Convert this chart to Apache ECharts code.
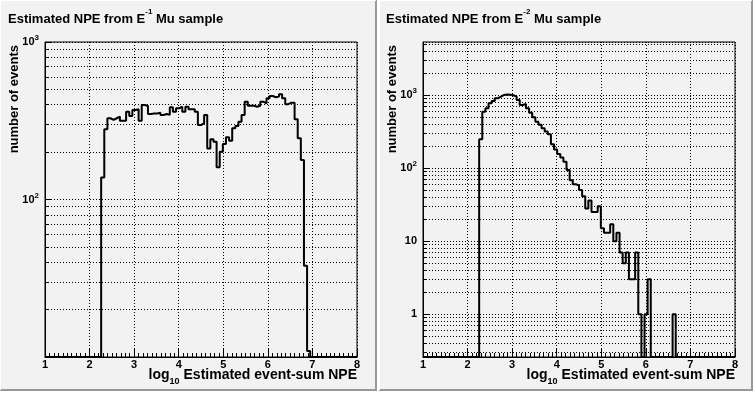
<!DOCTYPE html>
<html><head><meta charset="utf-8">
<script src="https://cdn.jsdelivr.net/npm/echarts@6/dist/echarts.min.js"></script>
<style>html,body{margin:0;padding:0;background:#fff}#c{width:756px;height:394px}</style>
</head><body><div id="c"></div>
<script>
// ---- data ----
const binLow = 1;          // histogram lower edge (log10 NPE)
const binWidth = 0.07;     // bin width
const nBins = 100;         // number of bins (1 .. 8)
// E^-1 sample: counts of bins 18..84
const leftFirstBin = 18;
const leftCounts = [138, 279, 328, 320, 328, 336, 316, 316, 361, 339,
  370, 374, 316, 398, 392, 349, 352, 352, 356, 344,
  349, 345, 385, 361, 379, 388, 361, 388, 374, 374,
  361, 297, 305, 344, 211, 241, 233, 160, 201, 225,
  248, 236, 283, 293, 312, 344, 418, 394, 394, 388,
  394, 418, 408, 439, 454, 446, 450, 466, 439, 403,
  412, 412, 323, 245, 178, 38, 10.9];
// E^-2 sample: counts of bins 18..80
const rightFirstBin = 18;
const rightCounts = [247, 590, 657, 769, 828, 901, 948, 1000, 1015, 1010,
  990, 950, 852, 729, 753, 657, 570, 495, 430, 390,
  350, 316, 290, 211, 180, 156, 139, 122, 94, 68,
  60, 58, 50, 41, 28, 36, 25, 25, 30, 15,
  13, 13, 17, 10, 13, 7, 5, 7, 3, 3,
  7, 1, 0, 1, 3, 0, 0, 0, 0, 0,
  0, 0, 1];
const leftYRange = [10, 1000];
const rightYRange = [0.26, 5300];
const xRange = [1, 8];
const leftMinorGrid = [20, 30, 40, 50, 60, 70, 80, 90, 200, 300, 400, 500, 600, 700, 800, 900];
const rightMinorGrid = [0.3, 0.4, 0.5, 0.6, 0.7, 0.8, 0.9, 2, 3, 4, 5, 6, 7, 8, 9,
  20, 30, 40, 50, 60, 70, 80, 90, 200, 300, 400, 500, 600, 700, 800, 900, 2000, 3000, 4000, 5000];
const titles = ['Estimated NPE from E', 'Estimated NPE from E'];
const titleSups = ['-1', '-2'];
const titleTail = ' Mu sample';
const yTitle = 'number of events';
const xTitleMain = 'log';
const xTitleSub = '10';
const xTitleTail = ' Estimated event-sum NPE';

// ---- chart ----
const FONT = 'Liberation Sans, Arial, sans-serif';
const chart = echarts.init(document.getElementById('c'), null, {renderer: 'canvas'});

function hist(counts, first, yMin) {
  const pts = [];
  for (let i = 0; i < nBins; i++) {
    const k = i - first;
    let v = (k >= 0 && k < counts.length) ? counts[k] : 0;
    if (!(v > 0)) v = yMin;
    pts.push([+(binLow + i * binWidth).toFixed(4), v]);
  }
  pts.push([binLow + nBins * binWidth, yMin]);
  return pts;
}
const dotted = {type: [1, 2], color: '#000', width: 1};
function xAxisCfg(idx) {
  return {type: 'value', gridIndex: idx, min: xRange[0], max: xRange[1], interval: 1,
    axisLine: {show: true, lineStyle: {color: '#000', width: 1}},
    axisTick: {show: true, inside: true, length: 8, lineStyle: {color: '#000'}},
    minorTick: {show: true, splitNumber: 10, length: 4, lineStyle: {color: '#000'}},
    splitLine: {show: true, lineStyle: dotted},
    axisLabel: {color: '#000', fontSize: 11, fontWeight: 'bold', fontFamily: FONT, margin: 2}};
}
const labRich = {
  b: {fontSize: 11, fontWeight: 'bold', fontFamily: FONT, color: '#000', lineHeight: 16, verticalAlign: 'middle'},
  s: {fontSize: 8, fontWeight: 'bold', fontFamily: FONT, color: '#000', lineHeight: 8, verticalAlign: 'top'}
};
function yFmt(v) {
  const e = Math.round(Math.log10(v));
  if (e <= 1) return '{b|' + Math.round(v) + '}';
  return '{b|10}{s|' + e + '}';
}
function yAxisCfg(idx, range, showMin, showMax) {
  return {type: 'log', logBase: 10, gridIndex: idx, min: range[0], max: range[1],
    axisLine: {show: true, lineStyle: {color: '#000', width: 1}},
    axisTick: {show: true, inside: true, length: 7, lineStyle: {color: '#000'}},
    splitLine: {show: true, lineStyle: dotted},
    axisLabel: {formatter: yFmt, rich: labRich, margin: 6, showMinLabel: showMin, showMaxLabel: showMax}};
}
function markLines(vals) {
  const data = [];
  vals.forEach(v => data.push({yAxis: v}));
  vals.forEach(v => data.push([{coord: [xRange[0], v], lineStyle: {type: 'solid'}}, {coord: [xRange[0] + 0.09, v]}]));
  return {silent: true, symbol: ['none', 'none'], label: {show: false}, animation: false,
    lineStyle: dotted, emphasis: {disabled: true}, data: data};
}
function series(idx, counts, first, range, minor) {
  return {type: 'line', xAxisIndex: idx, yAxisIndex: idx, step: 'end', symbol: 'none',
    lineStyle: {color: '#000', width: 2}, data: hist(counts, first, range[0]),
    markLine: markLines(minor), z: 5};
}
const titleRich = {
  a: {fontSize: 13, fontWeight: 'bold', fontFamily: FONT, color: '#000', lineHeight: 18, verticalAlign: 'bottom'},
  s: {fontSize: 8, fontWeight: 'bold', fontFamily: FONT, color: '#000', lineHeight: 10, verticalAlign: 'top'}
};
const xtRich = {
  a: {fontSize: 14, fontWeight: 'bold', fontFamily: FONT, color: '#000', lineHeight: 18, verticalAlign: 'top'},
  s: {fontSize: 9, fontWeight: 'bold', fontFamily: FONT, color: '#000', lineHeight: 9, verticalAlign: 'bottom'}
};
function padGraphics(x0, x1) {
  return [
    {type: 'rect', shape: {x: x0, y: 0, width: x1 - x0, height: 391}, style: {fill: '#f2f2f2'}, z: -100},
    {type: 'polyline', shape: {points: [[x1 - 1, 0], [x1 - 1, 390], [x0, 390]]}, style: {stroke: '#999', lineWidth: 2, fill: null}, z: -99},
    {type: 'polyline', shape: {points: [[x0 + 0.5, 390], [x0 + 0.5, 0.5], [x1 - 1, 0.5]]}, style: {stroke: '#fff', lineWidth: 1, fill: null}, z: -99}
  ];
}
function axisTitles(off) {
  return [
    {type: 'text', x: 14.5 + off, y: 45, rotation: Math.PI / 2, z: 10,
      style: {text: yTitle, font: 'bold 13px ' + FONT, fill: '#000', align: 'right', verticalAlign: 'middle'}},
    {type: 'text', x: 357 + off, y: 368, z: 10,
      style: {text: '{a|' + xTitleMain + '}{s|' + xTitleSub + '}{a|' + xTitleTail + '}', rich: xtRich, align: 'right', verticalAlign: 'top'}}
  ];
}
const option = {
  animation: false,
  backgroundColor: '#ffffff',
  title: [0, 1].map(i => ({left: 8 + i * 378, top: 8, padding: 0,
    text: '{a|' + titles[i] + '}{s|' + titleSups[i] + '}{a|' + titleTail + '}', textStyle: {rich: titleRich}})),
  grid: [
    {left: 45, top: 42, width: 312, height: 315, show: true, borderColor: '#000', borderWidth: 1, backgroundColor: 'transparent'},
    {left: 423, top: 42, width: 312, height: 315, show: true, borderColor: '#000', borderWidth: 1, backgroundColor: 'transparent'}
  ],
  xAxis: [xAxisCfg(0), xAxisCfg(1)],
  yAxis: [yAxisCfg(0, leftYRange, false, true), yAxisCfg(1, rightYRange, false, false)],
  series: [series(0, leftCounts, leftFirstBin, leftYRange, leftMinorGrid),
           series(1, rightCounts, rightFirstBin, rightYRange, rightMinorGrid)],
  graphic: {elements: [].concat(padGraphics(0, 377), padGraphics(379, 753), axisTitles(0), axisTitles(378))}
};
chart.setOption(option);
</script></body></html>
